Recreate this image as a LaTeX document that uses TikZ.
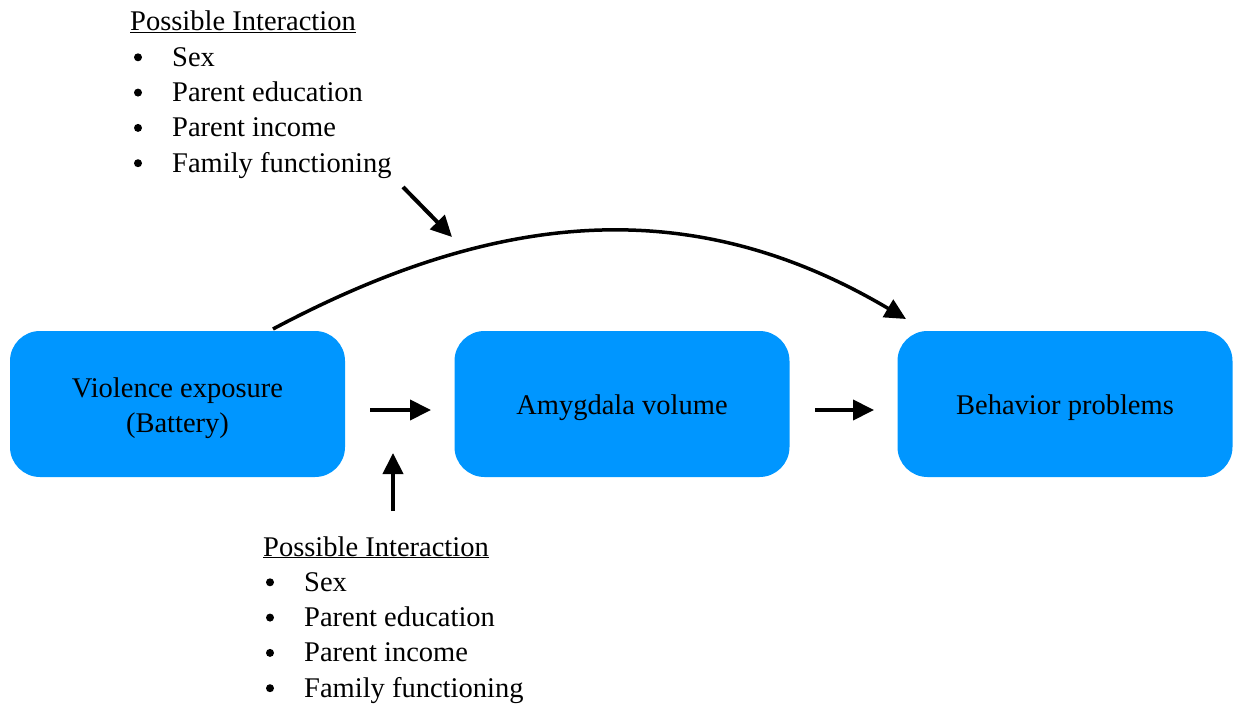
\documentclass[tikz,border=0pt]{standalone}
\usepackage{fontspec}
\setmainfont{Liberation Serif}
\usetikzlibrary{arrows.meta}
\definecolor{boxblue}{RGB}{0,150,255}
% stage caption set a little below the box centre
\newcommand\stagetext[1]{\raisebox{0pt}[\dimexpr\height+7pt\relax][\depth]{%
  \begin{tabular}{@{}c@{}}#1\end{tabular}}}

\begin{document}
\begin{tikzpicture}[x=1pt,y=-1pt,
  stage/.style={fill=boxblue, rounded corners=30pt, minimum width=335pt,
    minimum height=146pt, align=center, inner sep=0pt,
    font=\fontsize{28.5}{35}\selectfont},
  link/.style={line width=4pt, -{Triangle[length=21pt,width=20pt]}},
  arc/.style={line width=3.5pt},
  label/.style={anchor=base west, inner sep=0pt, font=\fontsize{28.5}{34}\selectfont},
  bullet/.style={circle, fill=black, inner sep=0pt, minimum size=8pt}]

\useasboundingbox (0,0) rectangle (1235,706);

% the three stages of the model
\node[stage] (violence) at (177.5,404) {\stagetext{Violence exposure\\(Battery)}};
\node[stage] (amygdala) at (622,404) {\stagetext{Amygdala volume}};
\node[stage] (behavior) at (1065,404) {\stagetext{Behavior problems}};

% moderator list above the direct path
\node[label] (top0) at (130,31) {\underline{Possible Interaction}};
\foreach \t [count=\i] in {Sex, Parent education, Parent income, Family functioning} {
  \node[bullet] (topb\i) at (138,22+35.3*\i) {};
  \node[label] (top\i) at (172,31+35.3*\i) {\t};
}

% moderator list below the indirect path
\node[label] (bot0) at (263,556) {\underline{Possible Interaction}};
\foreach \t [count=\i] in {Sex, Parent education, Parent income, Family functioning} {
  \node[bullet] (botb\i) at (270,547+35.3*\i) {};
  \node[label] (bot\i) at (304,556+35.3*\i) {\t};
}

% arrow end points
\coordinate (p1s) at (370,410);
\coordinate (p1e) at (431,410);
\coordinate (p2s) at (815,410);
\coordinate (p2e) at (874,410);
\coordinate (ms) at (393,511);
\coordinate (me) at (393,453);
\coordinate (cs) at (273,329);
\coordinate (ce) at (906,319);
\coordinate (ts) at (403,187);
\coordinate (te) at (452,237);

% paths
\draw[link] (p1s) -- (p1e);
\draw[link] (p2s) -- (p2e);
\draw[link] (ms) -- (me);
\draw[arc, -{Triangle[length=21pt,width=20pt]}] (cs) .. controls (495,211) and (690,191) .. (ce);
\draw[link] (ts) -- (te);
\end{tikzpicture}
\end{document}
